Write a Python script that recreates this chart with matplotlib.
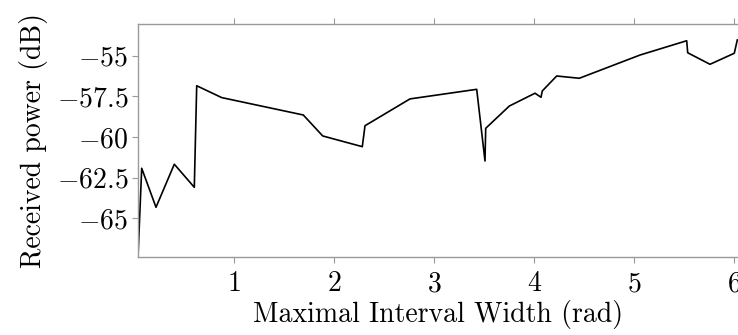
import matplotlib
matplotlib.use("Agg")
import matplotlib.pyplot as plt

plt.rcParams["font.family"] = "serif"
plt.rcParams["font.serif"] = ["cmr10", "DejaVu Serif"]
plt.rcParams["mathtext.fontset"] = "cm"
plt.rcParams["axes.unicode_minus"] = False

# received power vs. maximal interval width
width = [0.037, 0.074, 0.217, 0.40, 0.60, 0.624, 0.874, 1.69, 1.884, 2.28,
         2.307, 2.757, 3.424, 3.507, 3.514, 3.75, 4.007, 4.067, 4.08, 4.224,
         4.45, 5.057, 5.524, 5.534, 5.757, 6.0, 6.03]
power = [-67.39, -61.93, -64.33, -61.68, -63.10, -56.85, -57.58, -58.65,
         -59.94, -60.60, -59.31, -57.66, -57.07, -61.48, -59.47, -58.10,
         -57.31, -57.56, -57.17, -56.25, -56.39, -54.96, -54.08, -54.82,
         -55.53, -54.85, -54.03]

xticks = [1, 2, 3, 4, 5, 6]
yticks = [-55, -57.5, -60, -62.5, -65]
ytick_labels = ["$-55$", "$-57.5$", "$-60$", "$-62.5$", "$-65$"]

fig = plt.figure(figsize=(7.38, 3.35), dpi=100)
ax = fig.add_axes([138 / 738, 78 / 335, 600 / 738, 233 / 335])

ax.plot(width, power, color="black", linewidth=1.2)

ax.set_xlim(0.037, 6.037)
ax.set_ylim(-67.39, -53.05)

ax.set_xticks(xticks, [f"${t}$" for t in xticks])
ax.set_yticks(yticks, ytick_labels)

spine_col = "#9a9a9a"
for s in ["left", "top", "bottom"]:
    ax.spines[s].set_color(spine_col)
    ax.spines[s].set_linewidth(1.0)
ax.spines["right"].set_visible(False)

ax.tick_params(axis="x", which="both", top=True, bottom=True, direction="out",
               length=4, width=0.8, color=spine_col, labelsize=20, pad=6)
ax.tick_params(axis="y", which="both", left=True, direction="out",
               length=4, width=0.8, color=spine_col, labelsize=20, pad=3)

ax.set_xlabel("Maximal Interval Width (rad)", fontsize=20, labelpad=2)
ax.set_ylabel("Received power (dB)", fontsize=20, labelpad=6)

fig.savefig("out.png", dpi=100)
